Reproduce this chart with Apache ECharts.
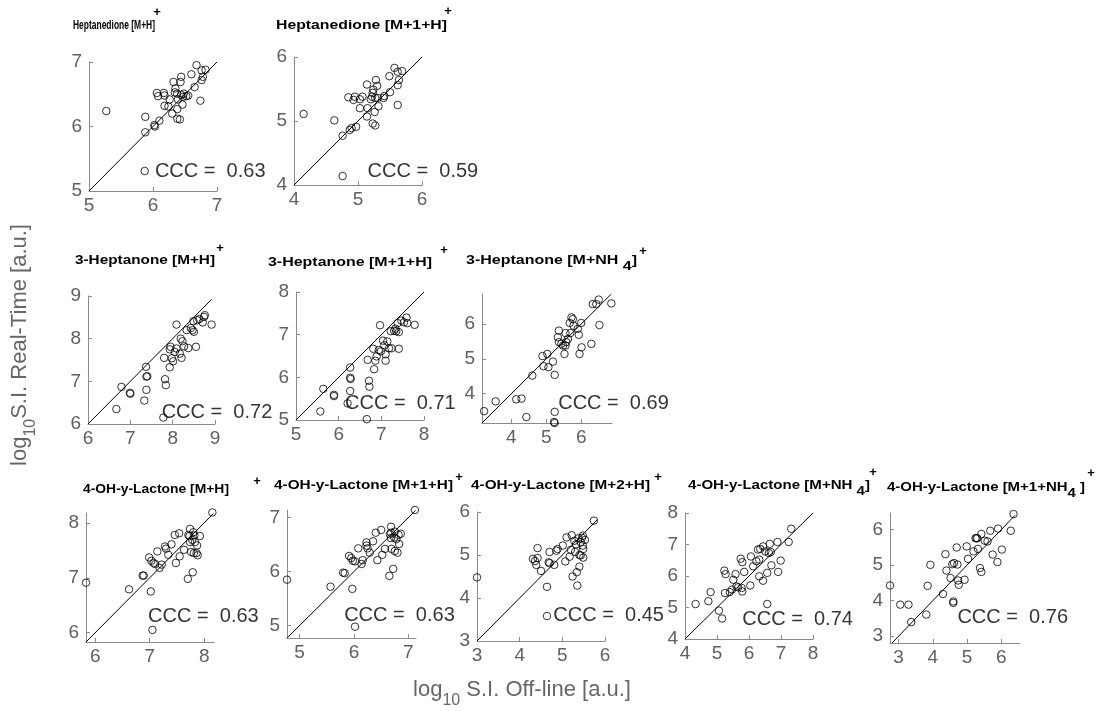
<!DOCTYPE html>
<html>
<head>
<meta charset="utf-8">
<script src="https://cdn.jsdelivr.net/npm/echarts@6/dist/echarts.min.js"></script>
<style>
  html, body { margin: 0; padding: 0; background: #fff; }
  #chart { width: 1102px; height: 711px; }
</style>
</head>
<body>
<div id="chart"></div>
<script>
// log10 signal intensity: [off-line, real-time] pairs per compound / ion
const heptanedioneMH = [[5.27,6.24],[5.88,6.15],[5.88,5.91],[6.02,6.02],[6.03,6.00],[6.10,6.09],[6.06,6.52],[6.08,6.47],[6.17,6.52],[6.18,6.48],[6.26,6.42],[6.18,6.32],[6.24,6.31],[6.30,6.20],[6.32,6.69],[6.35,6.59],[6.34,6.53],[6.375,6.51],[6.39,6.42],[6.38,6.27],[6.38,6.12],[6.42,6.11],[6.44,6.77],[6.43,6.69],[6.44,6.49],[6.47,6.46],[6.48,6.51],[6.46,6.34],[6.52,6.47],[6.55,6.48],[6.65,6.61],[6.60,6.81],[6.68,6.95],[6.76,6.87],[6.82,6.88],[6.78,6.77],[6.76,6.72],[6.74,6.40],[5.87,5.31]];
const heptanedioneM1H = [[4.15,5.11],[4.63,5.01],[4.76,4.77],[4.76,4.14],[4.87,4.86],[4.90,4.89],[4.97,4.91],[4.85,5.37],[4.95,5.38],[4.93,5.33],[5.03,5.34],[5.07,5.38],[5.03,5.20],[5.14,5.57],[5.14,5.07],[5.15,5.20],[5.22,5.38],[5.23,5.44],[5.24,5.49],[5.27,5.36],[5.28,5.64],[5.30,5.55],[5.23,4.96],[5.27,4.93],[5.26,5.14],[5.32,5.23],[5.31,5.36],[5.40,5.36],[5.41,5.39],[5.50,5.45],[5.49,5.70],[5.57,5.83],[5.62,5.77],[5.69,5.78],[5.64,5.64],[5.62,5.56],[5.62,5.25],[5.20,5.34]];
const heptanoneMH = [[6.67,6.35],[6.79,6.87],[6.99,6.73],[7.00,6.71],[7.33,6.55],[7.38,6.80],[7.38,7.11],[7.40,7.12],[7.37,7.34],[7.78,6.15],[7.82,7.05],[7.84,6.91],[7.80,7.55],[7.93,7.33],[7.95,7.81],[7.98,7.54],[8.01,7.47],[8.05,7.69],[8.09,7.77],[8.09,8.33],[8.17,7.65],[8.19,8.00],[8.23,7.94],[8.21,7.55],[8.27,7.82],[8.37,7.78],[8.33,8.20],[8.43,8.25],[8.47,8.20],[8.50,8.16],[8.49,8.41],[8.55,7.81],[8.58,8.43],[8.63,8.46],[8.71,8.38],[8.74,8.51],[8.76,8.55],[8.92,8.33],[7.93,7.75]];
const heptanoneM1H = [[5.57,5.20],[5.64,5.73],[5.89,5.59],[5.89,5.56],[6.21,5.39],[6.27,6.23],[6.27,5.99],[6.28,5.96],[6.27,5.68],[6.66,5.02],[6.71,5.92],[6.72,5.78],[6.68,6.41],[6.81,6.67],[6.83,6.19],[6.86,6.39],[6.89,6.49],[6.97,7.22],[6.94,6.64],[6.99,6.61],[7.04,6.86],[7.07,6.75],[7.10,6.54],[7.10,6.39],[7.14,6.84],[7.18,6.68],[7.24,6.68],[7.22,7.08],[7.30,7.09],[7.33,7.14],[7.41,6.67],[7.35,7.08],[7.38,7.27],[7.41,7.06],[7.47,7.33],[7.53,7.29],[7.59,7.40],[7.61,7.27],[7.78,7.23]];
const heptanoneMNH4 = [[3.22,3.50],[3.55,3.78],[4.14,3.84],[4.29,3.86],[4.43,3.33],[4.60,4.52],[4.89,5.08],[4.92,4.79],[5.03,5.14],[5.06,4.76],[5.19,4.92],[5.24,4.54],[5.24,3.48],[5.22,3.19],[5.24,3.16],[5.36,5.81],[5.33,5.62],[5.36,5.48],[5.43,5.43],[5.48,5.38],[5.52,5.14],[5.55,5.74],[5.57,5.48],[5.55,5.38],[5.62,5.57],[5.69,5.74],[5.67,6.03],[5.72,6.19],[5.76,6.14],[5.78,5.95],[5.90,5.86],[5.93,5.69],[5.95,5.14],[6.00,6.03],[6.01,5.33],[6.29,5.43],[6.33,6.57],[6.43,6.57],[6.50,6.70],[6.52,5.97],[6.86,6.59]];
const lactoneMH = [[5.83,6.91],[6.62,6.79],[6.87,7.04],[6.89,7.04],[7.02,6.75],[7.05,6.05],[6.99,7.37],[7.03,7.31],[7.07,7.27],[7.10,7.25],[7.14,7.48],[7.18,7.18],[7.22,7.24],[7.28,7.57],[7.30,7.53],[7.34,7.42],[7.40,7.61],[7.46,7.78],[7.54,7.81],[7.48,7.27],[7.55,7.39],[7.63,7.51],[7.70,6.98],[7.71,7.78],[7.73,7.76],[7.74,7.89],[7.74,7.65],[7.76,7.47],[7.79,7.10],[7.80,7.83],[7.82,7.77],[7.83,7.65],[7.81,7.45],[7.86,7.45],[7.87,7.59],[7.88,7.41],[7.92,7.76],[7.78,7.69],[8.15,8.19]];
const lactoneM1H = [[4.77,5.85],[5.57,5.72],[5.80,5.98],[5.83,5.97],[5.97,5.68],[6.02,4.98],[5.91,6.29],[5.95,6.25],[5.98,6.20],[6.02,6.19],[6.08,6.43],[6.14,6.14],[6.16,6.21],[6.23,6.54],[6.23,6.48],[6.25,6.43],[6.29,6.35],[6.35,6.56],[6.40,6.72],[6.50,6.77],[6.43,6.21],[6.52,6.31],[6.57,6.42],[6.65,5.92],[6.68,6.83],[6.66,6.69],[6.68,6.72],[6.68,6.62],[6.69,6.42],[6.72,6.05],[6.75,6.38],[6.75,6.74],[6.78,6.60],[6.80,6.35],[6.83,6.51],[6.82,6.68],[6.86,6.70],[6.74,6.63],[7.12,7.14]];
const lactoneM2H = [[3.00,4.48],[4.31,4.91],[4.36,4.86],[4.42,5.16],[4.42,4.93],[4.39,4.77],[4.50,4.63],[4.64,4.26],[4.64,3.58],[4.68,4.83],[4.70,5.07],[4.70,4.81],[4.81,4.77],[4.86,5.10],[4.89,5.14],[5.01,5.22],[5.07,4.85],[5.10,5.41],[5.17,4.96],[5.20,5.12],[5.22,5.46],[5.24,4.50],[5.28,5.33],[5.30,5.07],[5.32,5.25],[5.34,4.60],[5.35,4.29],[5.38,5.39],[5.40,5.00],[5.40,4.73],[5.43,5.30],[5.43,4.99],[5.46,5.40],[5.48,5.22],[5.49,4.94],[5.49,5.14],[5.53,5.35],[5.48,5.45],[5.74,5.80]];
const lactoneMNH4 = [[4.33,5.11],[4.73,5.20],[4.80,5.49],[5.06,4.90],[5.16,4.65],[5.23,6.17],[5.27,6.06],[5.25,5.46],[5.40,5.49],[5.47,5.57],[5.51,5.88],[5.58,6.06],[5.61,5.67],[5.66,5.64],[5.74,6.55],[5.79,6.44],[5.77,5.62],[5.79,5.51],[5.85,6.13],[6.04,5.70],[6.06,6.62],[6.13,6.31],[6.23,6.47],[6.28,6.84],[6.32,6.52],[6.32,5.99],[6.44,5.85],[6.44,6.94],[6.51,6.78],[6.57,6.10],[6.57,5.11],[6.65,7.02],[6.62,6.73],[6.68,6.76],[6.70,6.34],[6.89,7.08],[6.91,6.13],[6.99,6.49],[7.24,7.08],[7.32,7.50],[6.35,6.86]];
const lactoneM1NH4 = [[2.75,4.43],[3.05,3.89],[3.29,3.89],[3.37,3.40],[3.81,3.61],[3.85,4.42],[3.93,5.01],[4.30,4.19],[4.37,5.31],[4.40,4.85],[4.52,4.64],[4.60,3.98],[4.60,3.94],[4.57,5.03],[4.62,5.06],[4.70,5.50],[4.72,5.02],[4.74,4.57],[4.76,4.45],[4.93,4.59],[4.99,5.53],[5.03,5.18],[5.19,5.39],[5.25,5.76],[5.30,5.76],[5.32,5.46],[5.38,4.92],[5.42,4.81],[5.42,5.88],[5.52,5.69],[5.60,5.67],[5.68,5.97],[5.75,5.30],[5.89,5.09],[5.91,6.03],[6.02,5.44],[6.28,5.97],[6.36,6.44],[5.28,5.76]];

// panel titles (rich text: t = normal, d = lowered subscript)
const panelTitles = [
  '{t|Heptanedione [M+H]}',
  '{t|Heptanedione [M+1+H]}',
  '{t|3-Heptanone [M+H]}',
  '{t|3-Heptanone [M+1+H]}',
  '{t|3-Heptanone [M+NH }{d|4}{t|]}',
  '{t|4-OH-y-Lactone [M+H]}',
  '{t|4-OH-y-Lactone [M+1+H]}',
  '{t|4-OH-y-Lactone [M+2+H]}',
  '{t|4-OH-y-Lactone [M+NH }{d|4}{t|]}',
  '{t|4-OH-y-Lactone [M+1+NH}{d|4}{t| ]}'
];
const cccValues = ['0.63', '0.59', '0.72', '0.71', '0.69', '0.63', '0.63', '0.45', '0.74', '0.76'];

// axis extents and tick values
const xRanges = [[5,7],[4,6],[6,9],[5,8],[3.16,6.88],[5.83,8.18],[4.77,7.14],[3,6],[4,8],[2.75,6.55]];
const yRanges = [[5,7],[4,6],[6,9],[5,8],[3.16,6.86],[5.83,8.18],[4.77,7.14],[3,6],[4,8],[2.81,6.47]];
const xTicks = [[5,6,7],[4,5,6],[6,7,8,9],[5,6,7,8],[4,5,6],[6,7,8],[5,6,7],[3,4,5,6],[4,5,6,7,8],[3,4,5,6]];
const yTicks = [[5,6,7],[4,5,6],[6,7,8,9],[5,6,7,8],[4,5,6],[6,7,8],[5,6,7],[3,4,5,6],[4,5,6,7,8],[3,4,5,6]];
// identity line extent per panel
const identityEnds = [[5,7],[4,6],[6,8.92],[5,8],[3.16,6.86],[5.83,8.17],[4.77,7.13],[3,5.82],[4,8],[2.81,6.4]];
// where each CCC annotation starts (data coordinates)
const cccAnchors = [[6.03,5.31],[5.15,4.21],[7.74,6.26],[6.15,5.39],[5.34,3.73],[6.97,6.29],[5.82,5.18],[4.79,3.59],[5.79,4.63],[4.72,3.53]];

const panelData = [heptanedioneMH, heptanedioneM1H, heptanoneMH, heptanoneM1H, heptanoneMNH4,
                   lactoneMH, lactoneM1H, lactoneM2H, lactoneMNH4, lactoneM1NH4];

// plot boxes: [left, top, width, height]
const boxes = [
  [89, 62, 128, 129], [294, 57, 128, 128],
  [88, 296, 127, 128], [296, 292, 128, 128], [482, 294, 130, 129],
  [86, 513, 128, 129], [287, 510, 129, 128], [477, 512, 128, 129], [685, 513, 128, 126], [890, 513, 130, 130]
];
// title placement: [left, text centre y, width up to the closing bracket]
const titleBoxes = [
  [73, 26, 82], [276, 26, 171],
  [75, 261, 140], [268, 263, 164], [466, 261, 171],
  [83, 490, 146], [274, 486, 179], [471, 486, 179], [688, 486, 182], [887, 488, 198]
];
// superscript "+" centres
const plusPos = [
  [157, 12], [448, 11],
  [220, 248], [444, 250], [643, 251],
  [257, 481], [459, 477], [658, 477], [873, 472], [1091, 473]
];

const FONT = '"Liberation Sans", Arial, Helvetica, sans-serif';
const AXIS_COLOR = '#8a8a8a';
const LABEL_COLOR = '#606060';

const measureCtx = document.createElement('canvas').getContext('2d');
function textWidth(str, font) {
  measureCtx.font = font;
  return measureCtx.measureText(str).width;
}

const chart = echarts.init(document.getElementById('chart'), null, { renderer: 'canvas' });

const grid = [], xAxis = [], yAxis = [], series = [], graphic = [];

panelData.forEach((pts, i) => {
  const b = boxes[i];
  grid.push({ left: b[0], top: b[1], width: b[2], height: b[3], outerBoundsMode: 'none', containLabel: false });

  const axisCommon = (range, ticks) => ({
    type: 'value',
    min: range[0],
    max: range[1],
    splitLine: { show: false },
    axisLine: { show: true, lineStyle: { color: AXIS_COLOR, width: 1 } },
    axisTick: { show: true, inside: true, length: 4, customValues: ticks, lineStyle: { color: AXIS_COLOR } },
    axisLabel: { show: true, customValues: ticks, color: LABEL_COLOR, fontSize: 19, fontFamily: FONT }
  });

  const xa = axisCommon(xRanges[i], xTicks[i]);
  xa.gridIndex = i; xa.axisLabel.margin = 5;
  const ya = axisCommon(yRanges[i], yTicks[i]);
  ya.gridIndex = i; ya.axisLabel.margin = 7;
  xAxis.push(xa); yAxis.push(ya);

  series.push({
    type: 'scatter', xAxisIndex: i, yAxisIndex: i, data: pts,
    symbol: 'circle', symbolSize: 7.5, clip: false, silent: true, z: 3,
    itemStyle: { color: 'rgba(0,0,0,0)', borderColor: '#000', borderWidth: 1 }
  });
  const e = identityEnds[i];
  series.push({
    type: 'line', xAxisIndex: i, yAxisIndex: i, data: [[e[0], e[0]], [e[1], e[1]]],
    symbol: 'none', silent: true, z: 2, lineStyle: { color: '#000', width: 1 }
  });
  series.push({
    type: 'scatter', xAxisIndex: i, yAxisIndex: i, data: [cccAnchors[i]],
    symbolSize: 0, silent: true, clip: false, z: 4,
    label: { show: true, position: 'right', distance: 0, formatter: 'CCC =  ' + cccValues[i],
             color: '#000', fontSize: 20, fontFamily: FONT }
  });

  // panel title, stretched to its measured width
  const tb = titleBoxes[i];
  const plain = panelTitles[i].replace(/\{\w+\|([^}]*)\}/g, '$1');
  const w = textWidth(plain, 'bold 13px ' + FONT);
  graphic.push({
    type: 'text', x: tb[0], y: tb[1] - 7.5, scaleX: tb[2] / w, scaleY: 1, silent: true,
    style: {
      text: panelTitles[i], align: 'left', verticalAlign: 'top', fill: '#000',
      font: 'bold 13px ' + FONT,
      rich: {
        t: { fontSize: 13, fontWeight: 'bold', fontFamily: FONT, lineHeight: 15, verticalAlign: 'top', fill: '#000' },
        d: { fontSize: 13, fontWeight: 'bold', fontFamily: FONT, lineHeight: 15, padding: [6, 0, 0, 0], verticalAlign: 'top', fill: '#000' }
      }
    }
  });
  graphic.push({
    type: 'text', x: plusPos[i][0], y: plusPos[i][1], silent: true,
    style: { text: '+', align: 'center', verticalAlign: 'middle', fill: '#000', font: 'bold 13px ' + FONT }
  });
});

// shared axis names
const nameRich = {
  a: { fontSize: 22, fontFamily: FONT, lineHeight: 24, verticalAlign: 'top', fill: '#666' },
  b: { fontSize: 16, fontFamily: FONT, lineHeight: 17, padding: [14, 0, 0, 0], verticalAlign: 'top', fill: '#666' }
};
graphic.push({
  type: 'text', x: 522, y: 679, silent: true,
  style: { text: '{a|log}{b|10}{a| S.I. Off-line [a.u.]}', align: 'center', verticalAlign: 'top', rich: nameRich }
});
graphic.push({
  type: 'text', x: 9, y: 345, rotation: Math.PI / 2, silent: true,
  style: { text: '{a|log}{b|10}{a|S.I. Real-Time [a.u.]}', align: 'center', verticalAlign: 'top', rich: nameRich }
});

chart.setOption({
  animation: false,
  backgroundColor: '#fff',
  grid, xAxis, yAxis, series, graphic
});
</script>
</body>
</html>
